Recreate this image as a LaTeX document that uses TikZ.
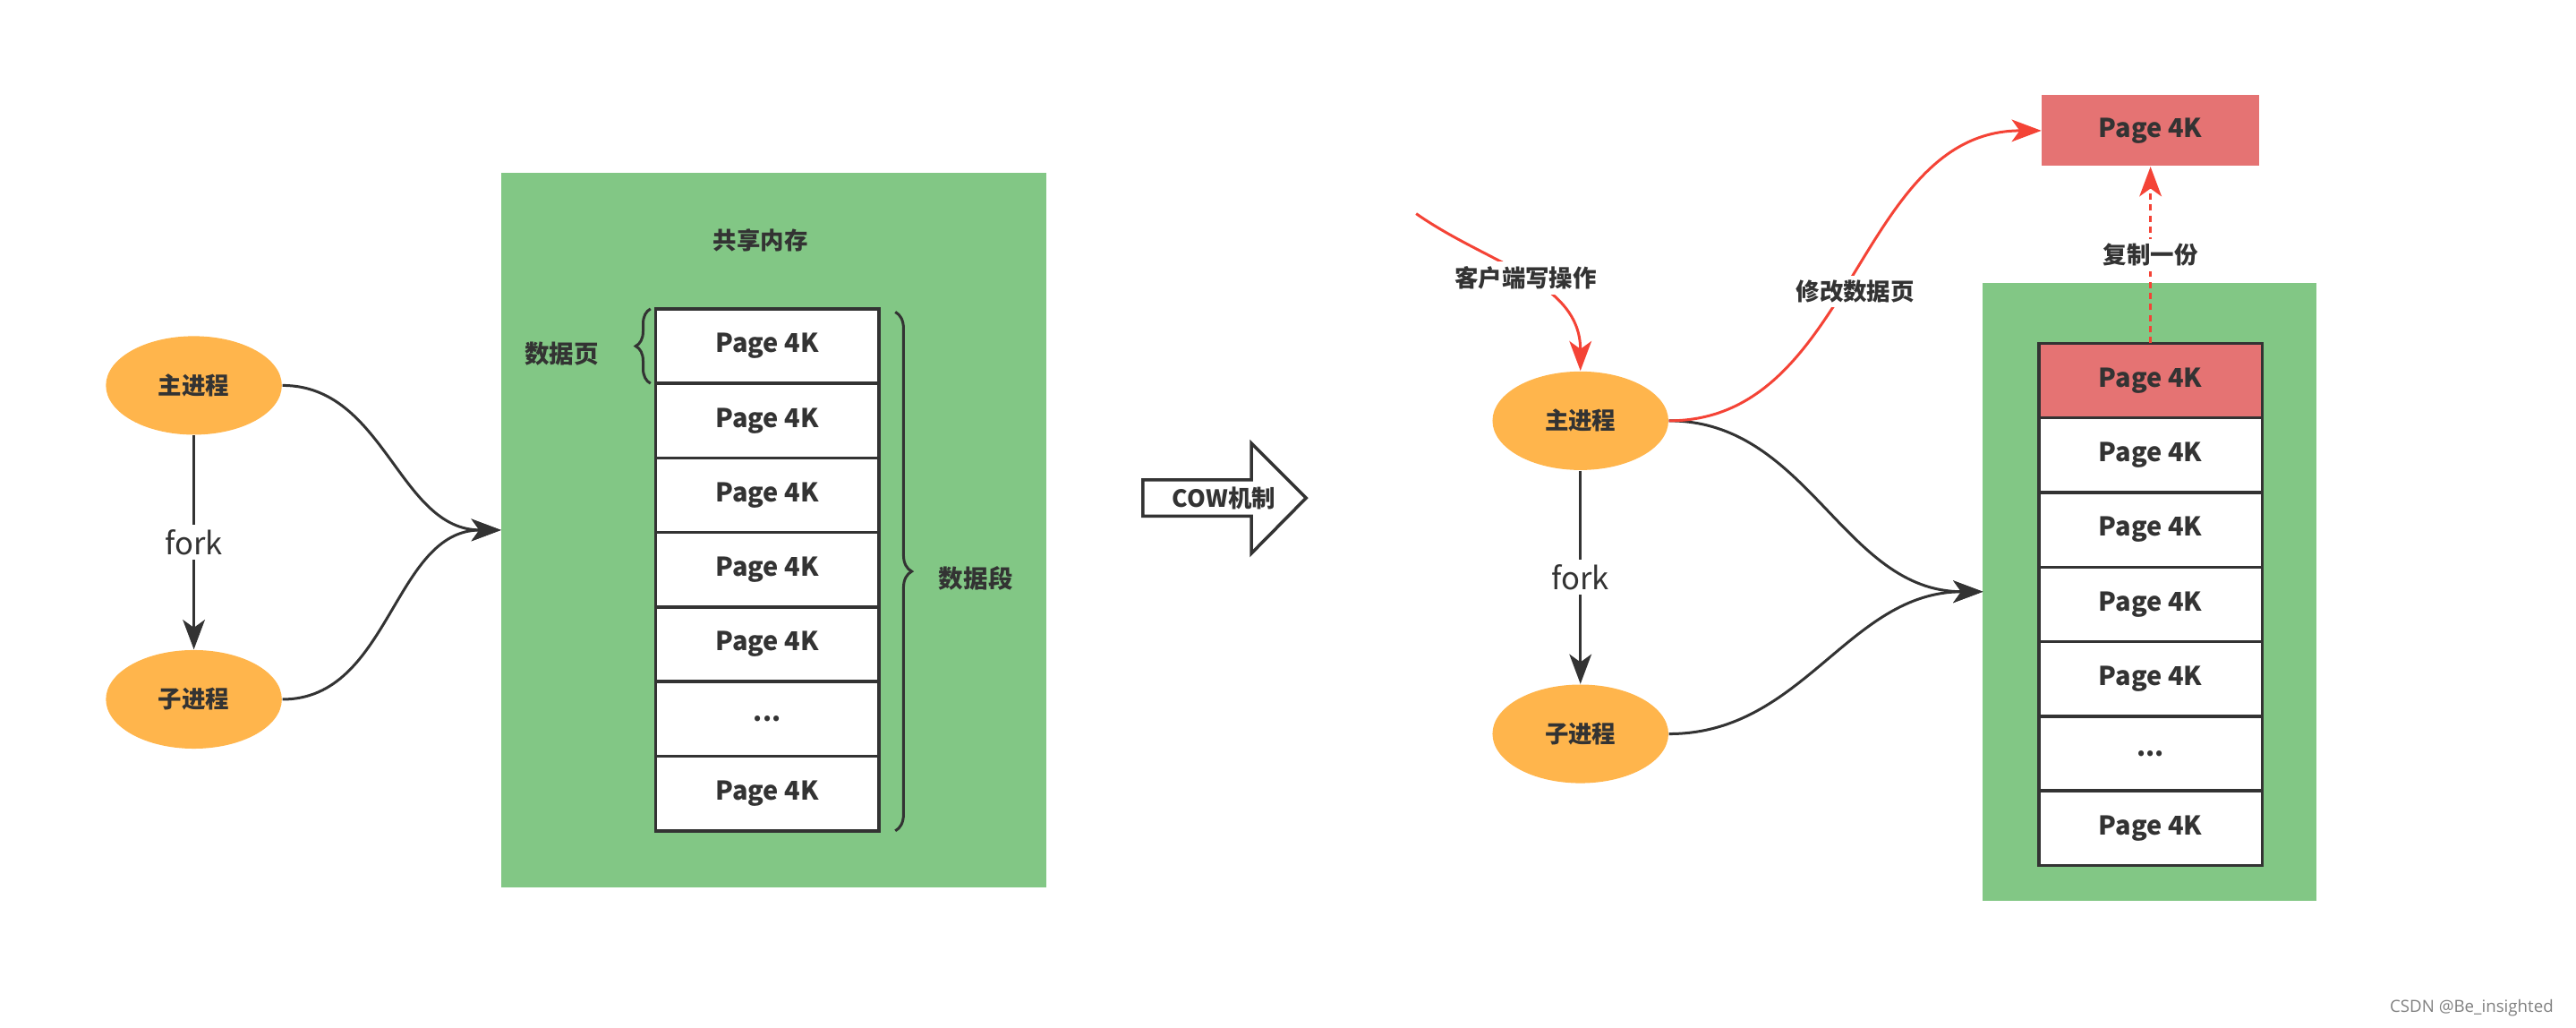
\documentclass[tikz,border=0pt]{standalone}
\usepackage{fontspec}
\setmainfont{Noto Sans CJK SC}
\newfontfamily\wmfont{Open Sans}
\usetikzlibrary{shapes.geometric, positioning, arrows.meta, decorations.pathreplacing}
\definecolor{memgreen}{HTML}{82C785}
\definecolor{procorange}{HTML}{FFB54C}
\definecolor{pagered}{HTML}{E57373}
\definecolor{linered}{HTML}{F44336}
\definecolor{ink}{HTML}{333333}
\tikzset{
	>={Stealth[length=9.4pt,width=7pt,inset=2.5pt]},
	every node/.style={text=ink, font=\bfseries\fontsize{7.5}{9}\selectfont},
	proc/.style={ellipse, fill=procorange, minimum width=55.7pt, minimum height=31.2pt, inner sep=0pt},
	memblock/.style={fill=memgreen, outer sep=0pt, inner sep=0pt},
	pagebox/.style={draw=ink, line width=1pt, fill=white, outer sep=0pt, inner sep=0pt,
		minimum width=70.7pt, minimum height=23.6pt, font=\bfseries\fontsize{8.2}{10}\selectfont},
	copybox/.style={fill=pagered, minimum width=68.7pt, minimum height=22.4pt, inner sep=0pt,
		font=\bfseries\fontsize{8.2}{10}\selectfont},
	link/.style={->, draw=ink, line width=0.85pt},
	redlink/.style={->, draw=linered, line width=0.85pt},
	lbl/.style={fill=white, inner sep=1.5pt},
	forklbl/.style={lbl, font=\fontsize{9.8}{11}\selectfont},
	curly/.style={draw=ink, line width=0.85pt, decorate, decoration={brace, amplitude=#1}},
}

\begin{document}
\begin{tikzpicture}[x=0.5202pt, y=-0.5202pt]
	\useasboundingbox (0,0) rectangle (1568,625);

	% before COW
	\node[memblock, minimum width=172.7pt, minimum height=226.3pt] (shmL) at (471,322.5) {};
	\node (shmtitle) at (463,146) {共享内存};
	\node[proc] (mainL) at (118,234.5) {主进程};
	\node[proc] (childL) at (118,425.5) {子进程};
	\node[pagebox] (pL1) at (467,210.6) {Page 4K};
	\node[pagebox, below=0pt of pL1] (pL2) {Page 4K};
	\node[pagebox, below=0pt of pL2] (pL3) {Page 4K};
	\node[pagebox, below=0pt of pL3] (pL4) {Page 4K};
	\node[pagebox, below=0pt of pL4] (pL5) {Page 4K};
	\node[pagebox, below=0pt of pL5] (pL6) {...};
	\node[pagebox, below=0pt of pL6] (pL7) {Page 4K};
	\node[font=\bfseries\fontsize{7.8}{9}\selectfont] (pagelbl) at (342,215) {数据页};
	\node[font=\bfseries\fontsize{7.8}{9}\selectfont] (seglbl) at (594,352) {数据段};

	\draw[link] (mainL) -- node[forklbl] {fork} (childL);
	\draw[link] (mainL.east) to[out=0, in=180] (shmL.west);
	\draw[link] (childL.east) to[out=0, in=180] (shmL.west);
	\draw[curly=4.7pt] ([xshift=-1.6pt]pL1.south west) -- ([xshift=-1.6pt]pL1.north west);
	\draw[curly=5.2pt] ([xshift=5.2pt,yshift=-1pt]pL1.north east) -- ([xshift=5.2pt]pL7.south east);

	% COW arrow
	\draw[ink, line width=1pt] (695.7,292) -- (761.7,292) -- (761.7,269.7) -- (795,303)
		-- (761.7,336.7) -- (761.7,314) -- (695.7,314) -- cycle;
	\node (cow) at (745,303) {COW机制};

	% after COW
	\node[memblock, minimum width=105.6pt, minimum height=195.6pt] (shmR) at (1308.5,360) {};
	\node[proc] (mainR) at (962,256) {主进程};
	\node[proc] (childR) at (962,446.5) {子进程};
	\node[pagebox, fill=pagered] (pR1) at (1309,231.6) {Page 4K};
	\node[pagebox, below=0pt of pR1] (pR2) {Page 4K};
	\node[pagebox, below=0pt of pR2] (pR3) {Page 4K};
	\node[pagebox, below=0pt of pR3] (pR4) {Page 4K};
	\node[pagebox, below=0pt of pR4] (pR5) {Page 4K};
	\node[pagebox, below=0pt of pR5] (pR6) {...};
	\node[pagebox, below=0pt of pR6] (pR7) {Page 4K};
	\node[copybox] (pCopy) at (1309,79.5) {Page 4K};
	\coordinate (client) at (862,130);

	\draw[redlink] (client) to[out=-35, in=90] node[lbl] {客户端写操作} (mainR.north);
	\draw[link] (mainR) -- node[forklbl] {fork} (childR);
	\draw[link] (mainR.east) to[out=0, in=180] (shmR.west);
	\draw[link] (childR.east) to[out=0, in=180] (shmR.west);
	\draw[redlink] (mainR.east) to[out=0, in=180] node[lbl, yshift=-5pt] {修改数据页} (pCopy.west);
	\draw[redlink, dash pattern=on 2pt off 1.5pt] (pR1.north) -- node[lbl] {复制一份} (pCopy.south);

	\node[anchor=east, text=gray, font=\wmfont\fontsize{5.3}{6}\selectfont] (wm) at (1561,613) {CSDN @Be\_insighted};
\end{tikzpicture}
\end{document}
